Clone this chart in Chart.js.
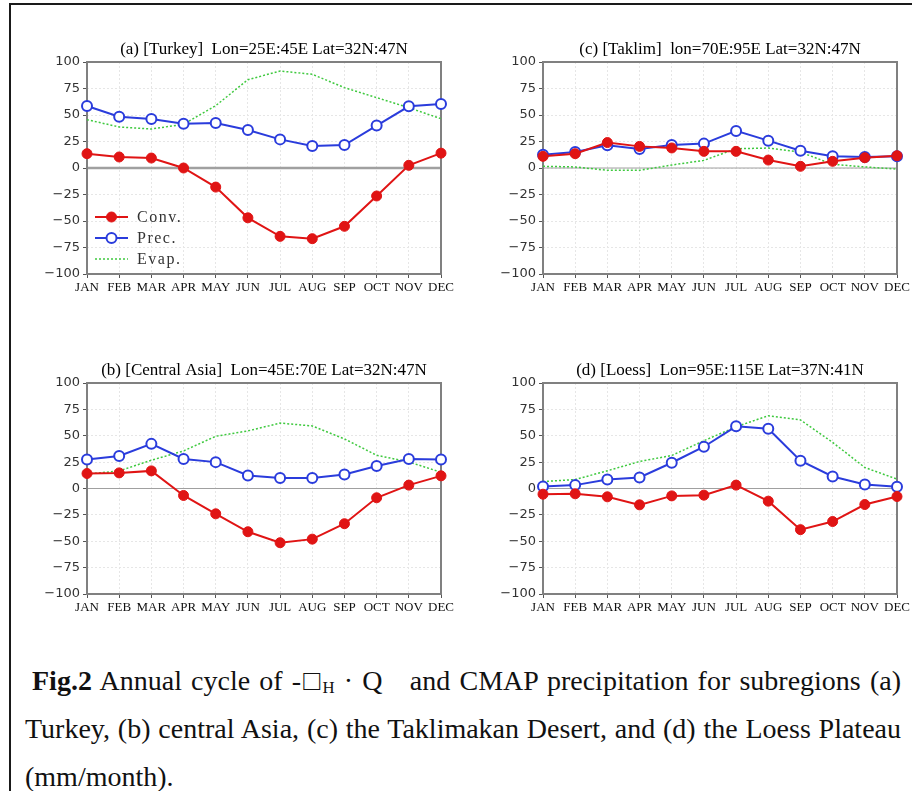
<!DOCTYPE html>
<html><head><meta charset="utf-8">
<script src="https://cdn.jsdelivr.net/npm/chart.js@4/dist/chart.umd.min.js"></script>
<style>
html,body{margin:0;padding:0;background:#fff;width:912px;height:791px;overflow:hidden;}
#frame{position:absolute;left:9px;top:3px;width:1000px;height:1000px;border-top:2px solid #1a1a1a;border-left:2px solid #1a1a1a;}
.pan{position:absolute;}
#caption{position:absolute;left:25px;top:657px;width:876px;font-family:"Liberation Serif","Times New Roman",serif;font-size:28px;line-height:48px;color:#111;}
.ln{text-align:justify;text-align-last:justify;}
.ln1{text-indent:7px;}
.ln3{text-align:left;}
sub{font-size:60%;vertical-align:-0.2em;line-height:0;}
</style></head>
<body>
<div id="frame"></div>
<canvas id="ca" class="pan" width="456" height="300" style="left:0;top:0"></canvas>
<canvas id="cc" class="pan" width="456" height="300" style="left:456px;top:0"></canvas>
<canvas id="cb" class="pan" width="456" height="300" style="left:0;top:320px"></canvas>
<canvas id="cd" class="pan" width="456" height="300" style="left:456px;top:320px"></canvas>
<div id="caption">
<div class="ln ln1"><b>Fig.2</b> Annual cycle of -□<sub>H</sub> · Q&nbsp;&nbsp; and CMAP precipitation for subregions (a)</div>
<div class="ln">Turkey, (b) central Asia, (c) the Taklimakan Desert, and (d) the Loess Plateau</div>
<div class="ln3">(mm/month).</div>
</div>
<script>
// ---- data ----
const months = ['JAN','FEB','MAR','APR','MAY','JUN','JUL','AUG','SEP','OCT','NOV','DEC'];
const seriesNames = ['Conv.','Prec.','Evap.'];
const yTickValues = [-100,-75,-50,-25,0,25,50,75,100];

const titleA = '(a) [Turkey]  Lon=25E:45E Lat=32N:47N';
const titleB = '(b) [Central Asia]  Lon=45E:70E Lat=32N:47N';
const titleC = '(c) [Taklim]  lon=70E:95E Lat=32N:47N';
const titleD = '(d) [Loess]  Lon=95E:115E Lat=37N:41N';

const turkeyConv = [13.5,10.4,9.4,0,-18,-47,-64.5,-66.7,-55,-26.4,2.5,14];
const turkeyPrec = [58.5,48.4,46.2,41.8,42.5,35.8,27,20.8,21.7,40,58.2,60.4];
const turkeyEvap = [45.6,38.7,36.8,41.2,58.8,83.3,91.5,88.4,75.8,66.4,56.9,46.5];

const centralConv = [14.2,14.8,16.7,-6.6,-24,-41,-51.4,-48,-33.4,-8.8,3.2,12];
const centralPrec = [27.4,30.9,42.3,28,25,12.3,10,10,13.2,21.4,28,27.4];
const centralEvap = [13.6,16.7,26.8,35.6,49.5,54.6,62,59.3,47,31.5,25.2,15.4];

const taklimConv = [11,13.5,24,20.4,18.9,15.7,15.7,7.5,1.6,6.3,9.7,11.6];
const taklimPrec = [12.6,15,21.4,18,21.7,23,35,25.8,16.3,11,10.4,11];
const taklimEvap = [1.6,1,-2.2,-2.2,2.8,7.2,18.2,18.8,15,3.5,1,-1];

const loessConv = [-5.4,-5,-7.9,-15.5,-7,-6.3,3.2,-12,-39,-31.3,-15.2,-7.6];
const loessPrec = [2,3.2,8.5,10.4,24.4,39.6,58.9,56.6,26.3,11.4,3.8,1.6];
const loessEvap = [6.6,8.5,16.8,25.6,31.3,45.3,58.5,69,65,43.7,19.9,8.9];

// ---- styling ----
const RED = '#e01414', BLUE = '#2a3cdc', GREEN = '#3fc93f';
Chart.defaults.font.family = '"DejaVu Sans", sans-serif';

const panelPlugin = {
  id: 'panel',
  beforeDatasetsDraw(chart, args, o) {
    const {ctx, chartArea: a} = chart;
    const y = chart.scales.y;
    ctx.save();
    const y0 = y.getPixelForValue(0);
    ctx.strokeStyle = '#a0a0a0';
    ctx.lineWidth = o.zeroWidth;
    ctx.beginPath(); ctx.moveTo(a.left, y0); ctx.lineTo(a.right, y0); ctx.stroke();
    ctx.strokeStyle = '#808080';
    ctx.lineWidth = 2;
    ctx.strokeRect(a.left, a.top, a.right - a.left, a.bottom - a.top);
    ctx.restore();
  },
  afterDraw(chart, args, o) {
    const {ctx, chartArea: a} = chart;
    ctx.save();
    ctx.fillStyle = '#000';
    ctx.font = '17px "Liberation Serif", serif';
    ctx.textAlign = 'center';
    ctx.textBaseline = 'middle';
    ctx.fillText(o.title, (a.left + a.right) / 2, a.top - 12);
    if (o.legend) {
      const ds = chart.data.datasets;
      ctx.textAlign = 'left';
      ctx.font = '16px "Liberation Serif", serif';
      ctx.letterSpacing = '1.5px';
      ds.forEach((d, i) => {
        const yy = a.bottom - 57 + i * 21;
        const x1 = a.left + 8, x2 = a.left + 41, xm = (x1 + x2) / 2;
        ctx.strokeStyle = d.borderColor;
        ctx.lineWidth = d.borderWidth;
        ctx.setLineDash(d.borderDash || []);
        ctx.beginPath(); ctx.moveTo(x1, yy); ctx.lineTo(x2, yy); ctx.stroke();
        ctx.setLineDash([]);
        if (d.pointRadius > 0) {
          ctx.beginPath(); ctx.arc(xm, yy, d.pointRadius, 0, Math.PI * 2);
          ctx.fillStyle = d.pointBackgroundColor; ctx.fill();
          ctx.lineWidth = d.pointBorderWidth;
          ctx.strokeStyle = d.pointBorderColor; ctx.stroke();
        }
        ctx.fillStyle = '#333';
        ctx.fillText(d.label, a.left + 50, yy + 1);
      });
    }
    ctx.restore();
  }
};

function makeChart(id, title, conv, prec, evap, topPad, zeroWidth, legend) {
  new Chart(document.getElementById(id), {
    type: 'line',
    data: {
      labels: months,
      datasets: [
        {label: seriesNames[0], data: conv, borderColor: RED, borderWidth: 2,
         pointRadius: 5, pointBackgroundColor: RED, pointBorderColor: RED, pointBorderWidth: 1,
         clip: false, tension: 0},
        {label: seriesNames[1], data: prec, borderColor: BLUE, borderWidth: 2,
         pointRadius: 5, pointBackgroundColor: '#ffffff', pointBorderColor: BLUE, pointBorderWidth: 2,
         clip: false, tension: 0},
        {label: seriesNames[2], data: evap, borderColor: GREEN, borderWidth: 1.5, borderDash: [2, 2],
         pointRadius: 0, clip: false, tension: 0}
      ]
    },
    options: {
      responsive: false,
      animation: false,
      devicePixelRatio: 1,
      layout: {padding: {left: 0, right: 15, top: topPad, bottom: 0}},
      plugins: {
        legend: {display: false},
        tooltip: {enabled: false},
        panel: {title: title, zeroWidth: zeroWidth, legend: legend}
      },
      scales: {
        x: {
          type: 'category',
          offset: false,
          grid: {color: '#e6e6e6', lineWidth: 1, drawTicks: true, tickLength: 4, tickColor: '#555'},
          border: {display: false, dash: [2, 2]},
          ticks: {autoSkip: false, maxRotation: 0, minRotation: 0, padding: 2, color: '#111',
                  font: {family: '"Liberation Serif", serif', size: 13}},
          afterFit(s) { s.height = 26; s.paddingLeft = 0; s.paddingRight = 0; }
        },
        y: {
          min: -100, max: 100,
          afterBuildTicks(s) { s.ticks = yTickValues.map(v => ({value: v})); },
          grid: {color: '#e6e6e6', lineWidth: 1, drawTicks: true, tickLength: 4, tickColor: '#555'},
          border: {display: false, dash: [2, 2]},
          ticks: {padding: 3, color: '#333', font: {size: 13},
                  callback: v => (v < 0 ? '\u2212' + Math.abs(v) : String(v))},
          afterFit(s) { s.width = 87; s.paddingTop = 0; s.paddingBottom = 0; }
        }
      }
    },
    plugins: [panelPlugin]
  });
}

makeChart('ca', titleA, turkeyConv, turkeyPrec, turkeyEvap, 62, 2.5, true);
makeChart('cc', titleC, taklimConv, taklimPrec, taklimEvap, 62, 1, false);
makeChart('cb', titleB, centralConv, centralPrec, centralEvap, 63, 1, false);
makeChart('cd', titleD, loessConv, loessPrec, loessEvap, 63, 1, false);
</script>
</body></html>
